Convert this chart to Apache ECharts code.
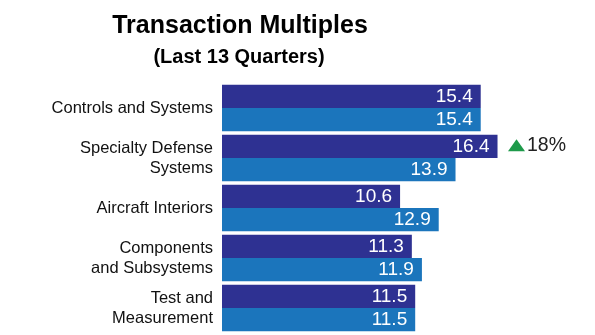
<!DOCTYPE html>
<html>
<head>
<meta charset="utf-8">
<script src="https://cdn.jsdelivr.net/npm/echarts@6/dist/echarts.min.js"></script>
<style>
  html, body { margin: 0; padding: 0; background: #fff; }
  #chart { width: 595px; height: 335px; }
</style>
</head>
<body>
<div id="chart"></div>
<script>
// Sector names, top to bottom
const categories = [
  'Controls and Systems',
  'Specialty Defense\nSystems',
  'Aircraft Interiors',
  'Components\nand Subsystems',
  'Test and\nMeasurement'
];
// Recent multiples (dark bars) and earlier multiples (light bars)
const recentMultiples = [15.4, 16.4, 10.6, 11.3, 11.5];
const earlierMultiples = [15.4, 13.9, 12.9, 11.9, 11.5];
// Highlighted change on Specialty Defense Systems
const changeIndex = 1;
const changeText = '18%';

const titleText = 'Transaction Multiples';
const subtitleText = '(Last 13 Quarters)';

const FONT = '"Liberation Sans", Arial, Helvetica, sans-serif';
const DARK = '#2e3192';
const LIGHT = '#1b75bc';

const chart = echarts.init(document.getElementById('chart'), null, { renderer: 'canvas' });

const valueLabel = {
  show: true,
  position: 'insideRight',
  distance: 8,
  color: '#ffffff',
  fontFamily: FONT,
  fontSize: 19,
  formatter: p => p.value.toFixed(1)
};

chart.setOption({
  animation: false,
  backgroundColor: '#ffffff',
  graphic: [
    {
      type: 'text', x: 240, y: 26,
      style: {
        text: titleText, fontFamily: FONT, fontSize: 25, fontWeight: 'bold',
        fill: '#000', align: 'center', verticalAlign: 'middle'
      }
    },
    {
      type: 'text', x: 239, y: 57,
      style: {
        text: subtitleText, fontFamily: FONT, fontSize: 20, fontWeight: 'bold',
        fill: '#000', align: 'center', verticalAlign: 'middle'
      }
    }
  ],
  grid: { left: 222, top: 83, width: 336, height: 250, containLabel: false },
  xAxis: {
    type: 'value', min: 0, max: 20,
    show: false
  },
  yAxis: {
    type: 'category',
    data: categories,
    inverse: true,
    axisLine: { show: false },
    axisTick: { show: false },
    splitLine: { show: false },
    axisLabel: {
      margin: 9,
      color: '#111',
      fontFamily: FONT,
      fontSize: 16.5,
      lineHeight: 20,
      align: 'right'
    }
  },
  series: [
    {
      name: 'Recent',
      type: 'bar',
      data: recentMultiples,
      barGap: '0%',
      barCategoryGap: '6.6%',
      itemStyle: { color: DARK },
      label: valueLabel,
      markPoint: {
        symbol: 'triangle',
        symbolSize: [17, 12],
        symbolOffset: [19, -1],
        itemStyle: { color: '#1e9a4a' },
        label: {
          show: true,
          position: 'right',
          distance: 2,
          formatter: changeText,
          color: '#222',
          fontFamily: FONT,
          fontSize: 19.5
        },
        data: [{ coord: [recentMultiples[changeIndex], changeIndex] }]
      }
    },
    {
      name: 'Earlier',
      type: 'bar',
      data: earlierMultiples,
      itemStyle: { color: LIGHT },
      label: valueLabel
    }
  ]
});
</script>
</body>
</html>
